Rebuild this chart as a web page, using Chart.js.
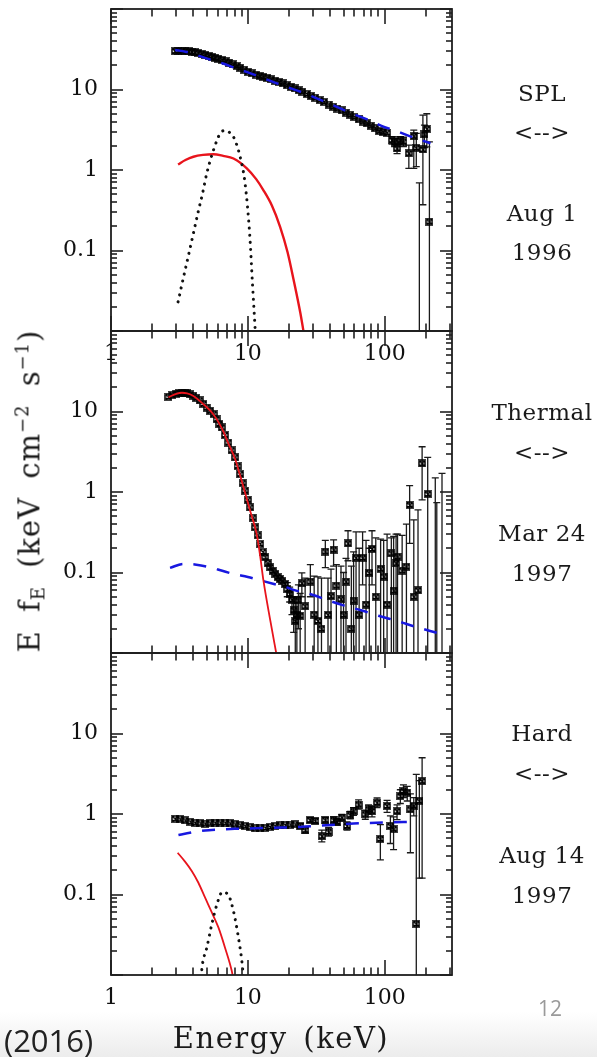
<!DOCTYPE html>
<html>
<head>
<meta charset="utf-8">
<script src="https://cdn.jsdelivr.net/npm/chart.js@4.4.1/dist/chart.umd.min.js"></script>
<style>
  body { margin: 0; background: #fff; }
  #page { position: relative; width: 597px; height: 1057px; overflow: hidden;
          background: linear-gradient(to bottom, #fff 0, #fff 1012px, #ececec 1057px); }
  #page canvas { position: absolute; left: 0; top: 0; }
  .side { position: absolute; transform: translate(-50%, -50%); white-space: nowrap;
          font-family: 'DejaVu Serif', serif; font-size: 23px; color: #1a1a1a; letter-spacing: 0.5px; }
  .ytitle { position: absolute; left: 30px; top: 491px; white-space: nowrap;
            transform: translate(-50%, -50%) rotate(-90deg);
            font-family: 'DejaVu Serif', serif; font-size: 29px; color: #1a1a1a;
            letter-spacing: 1px; word-spacing: 8px; }
  .ytitle sub { font-size: 0.62em; vertical-align: -0.3em; }
  .ytitle sup { font-size: 0.62em; vertical-align: 0.6em; }
  .xtitle { position: absolute; left: 281px; top: 1038px; white-space: nowrap;
            transform: translate(-50%, -50%);
            font-family: 'DejaVu Serif', serif; font-size: 29px; color: #1a1a1a;
            letter-spacing: 1.5px; word-spacing: 5px; }
  .slide { position: absolute; font-family: 'Open Sans', sans-serif; white-space: nowrap; }
</style>
</head>
<body>
<div id="page">
  <canvas id="c1" width="597" height="1057"></canvas>
  <canvas id="c2" width="597" height="1057"></canvas>
  <canvas id="c3" width="597" height="1057"></canvas>

  <div class="side" style="left:542px; top:93px;">SPL</div>
  <div class="side" style="left:542px; top:132px;">&lt;--&gt;</div>
  <div class="side" style="left:542px; top:213px;">Aug 1</div>
  <div class="side" style="left:542px; top:252px;">1996</div>

  <div class="side" style="left:542px; top:412px;">Thermal</div>
  <div class="side" style="left:542px; top:452px;">&lt;--&gt;</div>
  <div class="side" style="left:542px; top:533px;">Mar 24</div>
  <div class="side" style="left:542px; top:573px;">1997</div>

  <div class="side" style="left:542px; top:733px;">Hard</div>
  <div class="side" style="left:542px; top:773px;">&lt;--&gt;</div>
  <div class="side" style="left:542px; top:855px;">Aug 14</div>
  <div class="side" style="left:542px; top:895px;">1997</div>

  <div class="ytitle">E f<sub>E</sub> (keV cm<sup>−2</sup> s<sup>−1</sup>)</div>
  <div class="xtitle">Energy (keV)</div>

  <div class="slide" style="left:4px; top:1040px; transform:translateY(-50%); font-size:31px; color:#222;">(2016)</div>
  <div class="slide" style="left:550px; top:1008px; transform:translate(-50%,-50%); font-size:21px; color:#9a9a9a;">12</div>
</div>

<script>
/* =========================================================
   DADOS  —  E em keV, fluxo E f_E
========================================================= */
const xRange = [1, 310];
const yRange = [0.01, 100];
const xTickLabels = [1, 10, 100];
const yTickLabels = [0.1, 1, 10];

// --- Painel 1: SPL, Aug 1 1996 ---
const splE = [2.94, 3.1, 3.3, 3.5, 3.7, 3.9, 4.1, 4.35, 4.6, 4.9, 5.2, 5.5, 5.8, 6.1, 6.5, 6.9, 7.3, 7.8, 8.3, 8.8,
              9.4, 10.0, 10.7, 11.4, 12.2, 13.0, 13.9, 14.8, 15.8, 16.9, 18.0, 19.3, 20.6, 22.0, 23.5, 25, 27, 29, 31, 33.5,
              36, 39, 42, 45, 48.5, 52, 56, 60, 64.5, 69, 74, 79, 85, 91, 97, 104];
const splFlux = [30.0, 30.2, 30.2, 30.0, 29.7, 29.3, 28.9, 28.5, 27.8, 27.0, 26.2, 25.5, 24.8, 24.2, 23.3, 22.4, 21.6, 20.6, 19.6, 18.6,
                 17.6, 16.6, 15.9, 15.3, 14.8, 14.4, 14.0, 13.4, 12.9, 12.4, 11.9, 11.3, 10.8, 10.3, 9.8, 9.4, 8.8, 8.3, 7.9, 7.4,
                 7.0, 6.5, 6.1, 5.8, 5.5, 5.15, 4.85, 4.55, 4.25, 4.0, 3.8, 3.55, 3.3, 3.05, 2.95, 2.9];
const splErrE    = [113, 118, 123, 130, 137, 150, 163, 170, 179, 190, 195, 203, 212];
const splErrFlux = [2.35, 2.2, 1.85, 2.35, 2.24, 1.61, 2.63, 1.88, 0.005, 1.8, 2.77, 3.24, 0.228];
const splErrLo   = [2.1, 1.95, 1.6, 2.1, 1.95, 1.05, 1.05, 1.1, 0, 0.37, 1.9, 1.94, 0];
const splErrHi   = [2.6, 2.45, 2.1, 2.6, 2.55, 2.04, 3.12, 2.85, 0.69, 4.8, 3.6, 5.0, 2.24];
const splPlE   = [2.94, 3.5, 4.3, 5.4, 6.5, 8, 10, 13, 17, 23, 30, 40, 55, 74.4, 100, 113, 150, 216];
const splPl    = [31, 29.5, 26.5, 23.3, 21.2, 18.6, 16.3, 13.8, 11.6, 9.7, 8.1, 6.6, 5.2, 4.25, 3.4, 3.2, 2.65, 2.15];
const splDiskE = [3.09, 3.5, 4.0, 4.7, 5.6, 6.6, 7.85, 9.82, 11.5, 13.0, 15.0, 17.2, 19.5, 21.6, 24.2, 25.6];
const splDisk  = [1.17, 1.33, 1.46, 1.54, 1.57, 1.5, 1.39, 1.05, 0.77, 0.56, 0.36, 0.197, 0.095, 0.043, 0.0166, 0.0095];
const splLineE = [3.09, 3.4, 3.75, 4.05, 4.33, 4.65, 5.01, 5.61, 6.27, 6.8, 7.3, 7.85, 8.78, 9.54, 10.3, 10.8, 11.3, 11.5];
const splLine  = [0.023, 0.048, 0.1, 0.18, 0.3, 0.5, 0.91, 1.77, 2.84, 3.1, 2.95, 2.58, 1.46, 0.68, 0.163, 0.039, 0.0105, 0.006];

// --- Painel 2: Thermal, Mar 24 1997 ---
const thmE = [2.63, 2.8, 3.0, 3.15, 3.3, 3.45, 3.6, 3.8, 4.0, 4.2, 4.45, 4.74, 5.0, 5.3, 5.61, 5.9, 6.2, 6.45, 6.8, 7.2,
              7.6, 8.08, 8.4, 8.78, 9.15, 9.54, 10.0, 10.4, 10.85, 11.3, 11.8, 12.3, 12.85, 13.4, 14.0, 14.6, 15.2, 15.9, 16.5, 17.2,
              17.9, 18.7];
const thmFlux = [15.2, 16.0, 16.7, 17.0, 17.2, 17.1, 16.8, 16.3, 15.7, 14.8, 13.7, 12.4, 11.2, 10.2, 9.3, 8.0, 7.0, 6.33, 5.1, 4.12,
                 3.3, 2.69, 2.1, 1.67, 1.3, 1.04, 0.8, 0.644, 0.48, 0.364, 0.29, 0.226, 0.18, 0.155, 0.13, 0.116, 0.105, 0.096, 0.088, 0.083,
                 0.078, 0.072];
const thmErrE    = [19.4, 20.2, 21.0, 21.6, 22.2, 22.8, 23.4, 24.1, 24.8, 26.2, 28.6, 30.5, 32.5, 34.5, 36.8, 38.5, 40.5, 42.3, 44.3, 47.9,
                    50.0, 52.1, 53.9, 57, 59.2, 61.7, 65, 68.9, 73, 77.1, 80.7, 86, 93.3, 98.2, 104, 111.7, 116.1, 121, 124, 134,
                    144, 152, 163, 175, 187.5, 206, 234, 240, 262];
const thmErrFlux = [0.062, 0.054, 0.046, 0.034, 0.025, 0.03, 0.045, 0.029, 0.0735, 0.038, 0.0771, 0.03, 0.025, 0.02, 0.182, 0.0298, 0.0507, 0.192, 0.0688, 0.0465,
                    0.0298, 0.0771, 0.23, 0.02, 0.0448, 0.152, 0.03, 0.152, 0.04, 0.0988, 0.196, 0.05, 0.111, 0.089, 0.04, 0.173, 0.0596, 0.13, 0.157, 0.1056,
                    0.118, 0.69, 0.05, 0.06, 2.26, 0.944, 0.005, 0.005, 0.005];
const thmErrLo   = [0.05, 0.043, 0.03, 0.018, 0, 0, 0.02, 0, 0.05, 0, 0.05, 0, 0, 0, 0.115, 0, 0, 0.12, 0, 0,
                    0, 0, 0.14, 0, 0, 0, 0, 0.07, 0, 0, 0.07, 0, 0, 0, 0, 0, 0, 0, 0, 0,
                    0, 0.23, 0, 0, 0.8, 0, 0, 0, 0];
const thmErrHi   = [0.075, 0.066, 0.06, 0.05, 0.042, 0.05, 0.07, 0.055, 0.099, 0.085, 0.125, 0.09, 0.088, 0.085, 0.25, 0.085, 0.11, 0.254, 0.125, 0.12,
                    0.1, 0.15, 0.33, 0.12, 0.18, 0.32, 0.2, 0.32, 0.25, 0.2, 0.33, 0.27, 0.26, 0.25, 0.3, 0.27, 0.28, 0.3, 0.3, 0.29,
                    0.4, 1.2, 0.45, 0.6, 3.65, 2.7, 1.5, 0.74, 1.7];
const thmPlE   = [2.70, 3.38, 4.2, 5.3, 6.5, 7.85, 10, 12.3, 15.5, 19.2, 22.2, 28.5, 38.9, 50, 68.1, 90, 120, 170, 241];
const thmPl    = [0.114, 0.128, 0.125, 0.116, 0.105, 0.096, 0.088, 0.080, 0.072, 0.0654, 0.060, 0.054, 0.0448, 0.039, 0.0337, 0.029, 0.0253, 0.021, 0.0178];
const thmDiskE = [2.63, 3.0, 3.3, 3.6, 4.0, 4.74, 5.61, 6.45, 7.21, 8.08, 8.78, 9.54, 10.4, 11.6, 12.3, 13.0, 14.6, 16.2];
const thmDisk  = [15.0, 16.6, 17.1, 16.8, 15.6, 12.3, 9.2, 6.2, 4.0, 2.55, 1.6, 0.98, 0.58, 0.30, 0.16, 0.079, 0.025, 0.0095];

// --- Painel 3: Hard, Aug 14 1997 ---
const hrdE = [2.94, 3.2, 3.48, 3.8, 4.11, 4.5, 4.87, 5.3, 5.77, 6.3, 6.83, 7.4, 8.08, 8.8, 9.54, 10.4, 11.3, 12.3, 13.4, 14.5,
              15.8, 17.2, 18.7, 20.4, 22.2];
const hrdFlux = [0.872, 0.86, 0.833, 0.80, 0.778, 0.765, 0.76, 0.765, 0.778, 0.78, 0.778, 0.765, 0.743, 0.725, 0.708, 0.685, 0.662, 0.662, 0.672, 0.69,
                 0.708, 0.72, 0.73, 0.74, 0.743];
const hrdErrE    = [24.2, 26.3, 28.5, 31.1, 34.7, 36.8, 38.9, 42.3, 44.8, 48.6, 53.0, 56.0, 59.2, 64.4, 72.1, 76.2, 80.7, 87.9, 92.9, 104,
                    110, 116, 123, 130, 137, 146, 154, 163, 170, 179, 187.5];
const hrdErrFlux = [0.708, 0.63, 0.84, 0.82, 0.53, 0.84, 0.60, 0.84, 0.80, 0.90, 0.71, 0.97, 1.08, 1.31, 0.99, 1.14, 1.08, 1.38, 0.49, 1.26,
                    0.71, 0.65, 1.08, 1.67, 1.93, 1.84, 1.14, 1.26, 0.0432, 1.45, 2.56];
const hrdErrLo   = [0.66, 0.58, 0.78, 0.76, 0.45, 0.77, 0.53, 0.77, 0.73, 0.82, 0.63, 0.87, 0.96, 1.15, 0.86, 1.0, 0.92, 1.2, 0.27, 1.05,
                    0.43, 0.36, 0.85, 1.35, 1.6, 1.45, 0.33, 0.95, 0, 0.16, 0.16];
const hrdErrHi   = [0.76, 0.68, 0.9, 0.88, 0.63, 0.91, 0.68, 0.92, 0.87, 0.99, 0.8, 1.08, 1.2, 1.5, 1.12, 1.3, 1.24, 1.58, 0.74, 1.48,
                    0.95, 0.92, 1.3, 2.0, 2.3, 2.2, 1.78, 1.6, 3.1, 2.6, 5.0];
const hrdPlE   = [3.11, 3.6, 4.35, 5.2, 6.1, 8, 10.1, 15, 24.2, 40, 59.2, 100, 158];
const hrdPl    = [0.547, 0.575, 0.61, 0.63, 0.64, 0.655, 0.66, 0.675, 0.69, 0.73, 0.76, 0.785, 0.80];
const hrdDiskE = [3.07, 3.45, 3.89, 4.35, 4.87, 5.45, 6.1, 6.8, 7.63, 7.8];
const hrdDisk  = [0.33, 0.26, 0.196, 0.14, 0.0912, 0.06, 0.0387, 0.022, 0.0112, 0.0092];
const hrdLineE = [4.55, 4.66, 5.01, 5.45, 5.95, 6.5, 7.2, 7.85, 8.46, 9.04, 9.3];
const hrdLine  = [0.0095, 0.0137, 0.0218, 0.0427, 0.076, 0.107, 0.0985, 0.062, 0.0318, 0.0148, 0.0092];

/* =========================================================
   ESTILO E PLUGINS
========================================================= */
const AZUL = '#1818e0';
const VERMELHO = '#e8141c';
const FONTE = { family: 'DejaVu Serif', size: 22 };

function pares(xs, ys) { return xs.map((x, i) => ({ x: x, y: ys[i] })); }

// marcador "caixa com X" dos dados
function criarMarcador() {
    const c = document.createElement('canvas');
    c.width = 8; c.height = 8;
    const g = c.getContext('2d');
    g.strokeStyle = '#000';
    g.lineWidth = 1.5;
    g.beginPath();
    g.moveTo(1, 1); g.lineTo(7, 1); g.lineTo(1, 7); g.lineTo(7, 7); g.closePath();
    g.moveTo(1, 1); g.lineTo(1, 7); g.moveTo(7, 1); g.lineTo(7, 7);
    g.stroke();
    return c;
}
const marcador = criarMarcador();

// décadas com sub-divisões 1..9
function ticksLog(range) {
    const out = [];
    const d0 = Math.floor(Math.log10(range[0]) + 1e-9);
    const d1 = Math.ceil(Math.log10(range[1]) - 1e-9);
    for (let d = d0; d <= d1; d++) {
        for (let m = 1; m <= 9; m++) {
            const v = m * Math.pow(10, d);
            if (v >= range[0] * 0.999 && v <= range[1] * 1.001) out.push({ v: v, major: m === 1 });
        }
    }
    return out;
}

// moldura e ticks para dentro nos 4 lados
const molduraPlugin = {
    id: 'moldura',
    afterDatasetsDraw(chart) {
        const ctx = chart.ctx;
        const a = chart.chartArea;
        const x = chart.scales.x, y = chart.scales.y;
        ctx.save();
        ctx.fillStyle = '#222';
        ticksLog(xRange).forEach(t => {
            const px = Math.round(x.getPixelForValue(t.v));
            const len = t.major ? 15 : 7.5;
            ctx.fillRect(px - 0.8, a.bottom - len, 1.6, len);
            ctx.fillRect(px - 0.8, a.top, 1.6, len);
        });
        ticksLog(yRange).forEach(t => {
            const py = Math.round(y.getPixelForValue(t.v));
            const len = t.major ? 12 : 6;
            ctx.fillRect(a.left, py - 0.8, len, 1.6);
            ctx.fillRect(a.right - len, py - 0.8, len, 1.6);
        });
        ctx.strokeStyle = '#1e1e1e';
        ctx.lineWidth = 1.8;
        ctx.setLineDash([]);
        ctx.strokeRect(a.left, a.top, a.right - a.left, a.bottom - a.top);
        ctx.restore();
    }
};

// barras de erro verticais (errLo = 0 -> desce até o eixo)
const errosPlugin = {
    id: 'erros',
    beforeDatasetsDraw(chart) {
        const { ctx, chartArea: a, scales: { x, y } } = chart;
        ctx.save();
        ctx.beginPath();
        ctx.rect(a.left, a.top, a.right - a.left, a.bottom - a.top);
        ctx.clip();
        ctx.strokeStyle = '#1a1a1a';
        ctx.lineWidth = 1.3;
        chart.data.datasets.forEach(ds => {
            if (!ds.errLo) return;
            ds.data.forEach((p, i) => {
                const px = x.getPixelForValue(p.x);
                const yHi = y.getPixelForValue(ds.errHi[i]);
                const yLo = ds.errLo[i] > 0 ? y.getPixelForValue(ds.errLo[i]) : a.bottom + 6;
                ctx.beginPath();
                ctx.moveTo(px, yHi); ctx.lineTo(px, yLo);
                ctx.moveTo(px - 3.5, yHi); ctx.lineTo(px + 3.5, yHi);
                ctx.moveTo(px - 3.5, yLo); ctx.lineTo(px + 3.5, yLo);
                ctx.stroke();
            });
        });
        ctx.restore();
    }
};

/* =========================================================
   PAINÉIS
========================================================= */
function linhaModelo(xs, ys, cor, tracejado, largura) {
    return {
        data: pares(xs, ys), showLine: true, borderColor: cor, borderWidth: largura,
        borderDash: tracejado, borderCapStyle: tracejado[0] < 1 ? 'round' : 'butt',
        pointRadius: 0, cubicInterpolationMode: 'monotone', clip: 0
    };
}

function dadosPontos(xs, ys, lo, hi) {
    const ds = { data: pares(xs, ys), showLine: false, pointStyle: marcador, pointRadius: 4, clip: 0 };
    if (lo) { ds.errLo = lo; ds.errHi = hi; }
    return ds;
}

function criarPainel(id, topo, mostrarX, datasets) {
    const alturaEixoX = 40;
    new Chart(document.getElementById(id), {
        type: 'scatter',
        data: { datasets: datasets },
        options: {
            responsive: false,
            animation: false,
            devicePixelRatio: 1,
            events: [],
            layout: { autoPadding: false, padding: { left: 0, right: 145, top: topo, bottom: 1057 - topo - 322 - alturaEixoX } },
            plugins: { legend: { display: false }, tooltip: { enabled: false } },
            scales: {
                x: {
                    type: 'logarithmic', min: xRange[0], max: xRange[1], position: 'bottom',
                    grid: { display: false, drawTicks: false }, border: { display: false },
                    ticks: { display: mostrarX, padding: 10, font: FONTE, color: '#111', maxRotation: 0, autoSkip: false,
                             callback: v => String(v) },
                    afterBuildTicks: s => { s.ticks = xTickLabels.map(v => ({ value: v })); },
                    afterFit: s => { s.height = alturaEixoX; s.paddingLeft = 0; s.paddingRight = 0; }
                },
                y: {
                    type: 'logarithmic', min: yRange[0], max: yRange[1], position: 'left',
                    grid: { display: false, drawTicks: false }, border: { display: false },
                    ticks: { padding: 13, font: FONTE, color: '#111', autoSkip: false, callback: v => String(v) },
                    afterBuildTicks: s => { s.ticks = yTickLabels.map(v => ({ value: v })); },
                    afterFit: s => { s.width = 111; s.paddingTop = 0; s.paddingBottom = 0; }
                }
            }
        },
        plugins: [errosPlugin, molduraPlugin]
    });
}

// ordem: índice 0 fica por cima, dados por baixo
criarPainel('c1', 9, true, [
    linhaModelo(splLineE, splLine, '#111', [0.1, 7], 3),
    linhaModelo(splDiskE, splDisk, VERMELHO, [], 2.4),
    linhaModelo(splPlE, splPl, AZUL, [13, 11], 2.5),
    dadosPontos(splErrE, splErrFlux, splErrLo, splErrHi),
    dadosPontos(splE, splFlux)
]);

criarPainel('c2', 331, false, [
    linhaModelo(thmDiskE, thmDisk, VERMELHO, [], 1.8),
    linhaModelo(thmPlE, thmPl, AZUL, [13, 11], 2.5),
    dadosPontos(thmErrE, thmErrFlux, thmErrLo, thmErrHi),
    dadosPontos(thmE, thmFlux)
]);

criarPainel('c3', 653, true, [
    linhaModelo(hrdLineE, hrdLine, '#111', [0.1, 7], 3),
    linhaModelo(hrdDiskE, hrdDisk, VERMELHO, [], 1.8),
    linhaModelo(hrdPlE, hrdPl, AZUL, [13, 11], 2.5),
    dadosPontos(hrdErrE, hrdErrFlux, hrdErrLo, hrdErrHi),
    dadosPontos(hrdE, hrdFlux)
]);
</script>
</body>
</html>
